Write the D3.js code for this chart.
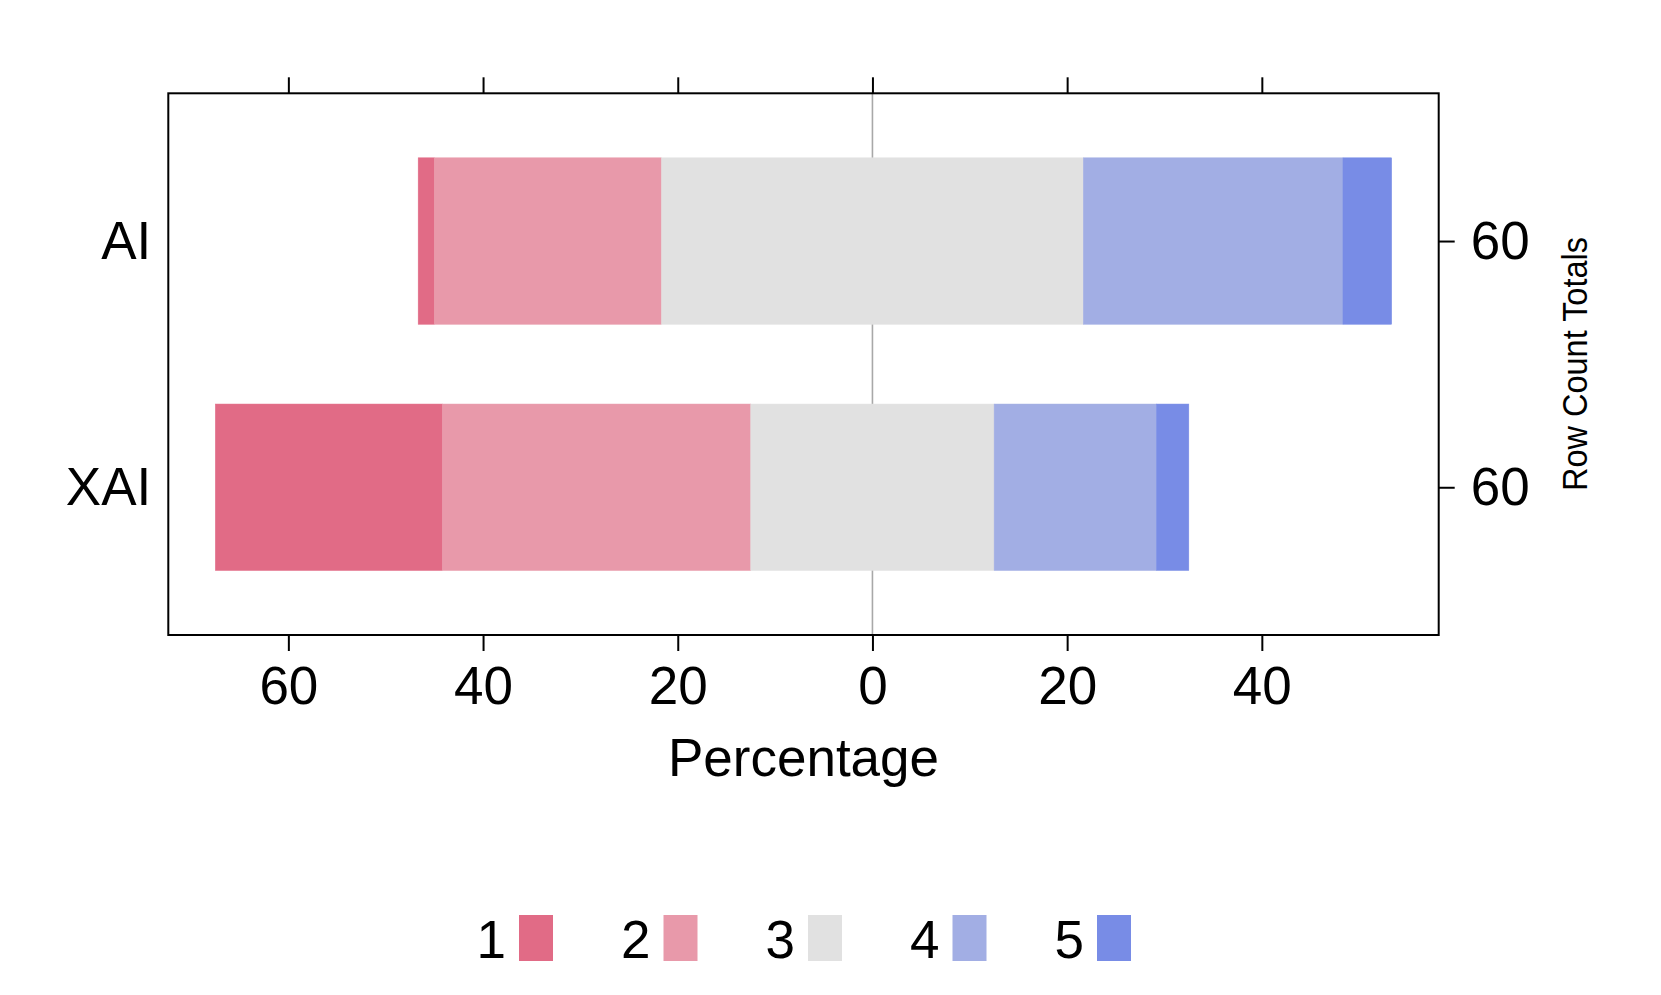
<!DOCTYPE html>
<html>
<head>
<meta charset="utf-8">
<script src="https://cdn.jsdelivr.net/npm/d3@7/dist/d3.min.js"></script>
<style>
  html, body { margin: 0; padding: 0; background: #ffffff; }
  svg { display: block; font-family: "Liberation Sans", Arial, Helvetica, sans-serif; }
</style>
</head>
<body>
<svg id="chart" width="1661" height="995"></svg>
<script>
// ---- data (percentages of 60 respondents per row) ----
const categories = ["AI", "XAI"];
const levels = ["1", "2", "3", "4", "5"];
const level1 = [1.67, 23.33];
const level2 = [23.33, 31.67];
const level3 = [43.33, 25.00];
const level4 = [26.67, 16.67];
const level5 = [5.00, 3.33];
const rowTotals = [60, 60];
const xTickValues = [-60, -40, -20, 0, 20, 40];
const levelColors = ["#E16B86", "#E899AA", "#E1E1E1", "#A2AEE4", "#788CE6"];

const series = [level1, level2, level3, level4, level5];

// ---- layout ----
const svg = d3.select("#chart");
const plot = { left: 168.3, top: 93.3, right: 1438.7, bottom: 635 };
const fontSize = 53;

// segments: neutral split around zero
const rows = categories.map((cat, i) => {
  const vals = series.map(s => s[i]);
  let start = -(vals[0] + vals[1] + vals[2] / 2);
  const segs = vals.map((v, k) => {
    const seg = { cat, level: levels[k], x0: start, x1: start + v, color: levelColors[k] };
    start += v;
    return seg;
  });
  return { cat, total: rowTotals[i], segs };
});

const minX = d3.min(rows, r => r.segs[0].x0);
const maxX = d3.max(rows, r => r.segs[4].x1);
const pad = (maxX - minX) * 0.04;

const x = d3.scaleLinear().domain([minX - pad, maxX + pad]).range([plot.left, plot.right]);
const y = d3.scalePoint().domain(categories).range([plot.top, plot.bottom]).padding(0.6);
const barH = y.step() * 0.676;

// center reference line
svg.append("line")
  .attr("x1", x(0)).attr("x2", x(0))
  .attr("y1", plot.top).attr("y2", plot.bottom)
  .attr("stroke", "#A8A8A8").attr("stroke-width", 1.6);

// bars
svg.append("g").selectAll("g.row").data(rows).join("g")
  .attr("class", "row")
  .selectAll("rect").data(d => d.segs).join("rect")
  .attr("x", d => x(d.x0))
  .attr("width", d => x(d.x1) - x(d.x0))
  .attr("y", d => y(d.cat) - barH / 2)
  .attr("height", barH)
  .attr("fill", d => d.color)
  .attr("stroke", d => d.color)
  .attr("stroke-width", 0.5);

// frame
svg.append("rect")
  .attr("x", plot.left).attr("y", plot.top)
  .attr("width", plot.right - plot.left).attr("height", plot.bottom - plot.top)
  .attr("fill", "none").attr("stroke", "#000").attr("stroke-width", 2);

function styleAxis(g) {
  g.select(".domain").remove();
  g.selectAll(".tick line").attr("stroke", "#000").attr("stroke-width", 2);
  g.selectAll(".tick text").attr("fill", "#000").style("font-size", fontSize + "px")
    .style("font-family", '"Liberation Sans", Arial, Helvetica, sans-serif');
}

// bottom axis
svg.append("g").attr("transform", `translate(0,${plot.bottom})`)
  .call(d3.axisBottom(x).tickValues(xTickValues).tickFormat(d => Math.abs(d)).tickSize(16).tickPadding(15))
  .call(styleAxis);

// top axis (ticks only)
svg.append("g").attr("transform", `translate(0,${plot.top})`)
  .call(d3.axisTop(x).tickValues(xTickValues).tickFormat("").tickSize(16))
  .call(styleAxis);

// right axis: row count totals
svg.append("g").attr("transform", `translate(${plot.right},0)`)
  .call(d3.axisRight(y).tickFormat((d, i) => rowTotals[i]).tickSize(16).tickPadding(16))
  .call(styleAxis);

// left category labels
svg.append("g").attr("transform", `translate(${plot.left},0)`)
  .call(d3.axisLeft(y).tickSize(0).tickPadding(17))
  .call(styleAxis);

// axis titles
svg.append("text")
  .attr("x", (plot.left + plot.right) / 2).attr("y", 776)
  .attr("text-anchor", "middle")
  .style("font-size", fontSize + "px")
  .text("Percentage");

svg.append("text")
  .attr("transform", `translate(1587,364) rotate(-90)`)
  .attr("text-anchor", "middle")
  .attr("textLength", 254).attr("lengthAdjust", "spacingAndGlyphs")
  .style("font-size", "35px")
  .text("Row Count Totals");

// legend
const legendStart = 519, legendStep = 144.5;
const lg = svg.append("g").selectAll("g").data(levels).join("g")
  .attr("transform", (d, i) => `translate(${legendStart + i * legendStep},0)`);
lg.append("rect")
  .attr("x", 0).attr("y", 915).attr("width", 34).attr("height", 46)
  .attr("fill", (d, i) => levelColors[i]);
lg.append("text")
  .attr("x", -13).attr("y", 958)
  .attr("text-anchor", "end")
  .style("font-size", fontSize + "px")
  .text(d => d);
</script>
</body>
</html>
